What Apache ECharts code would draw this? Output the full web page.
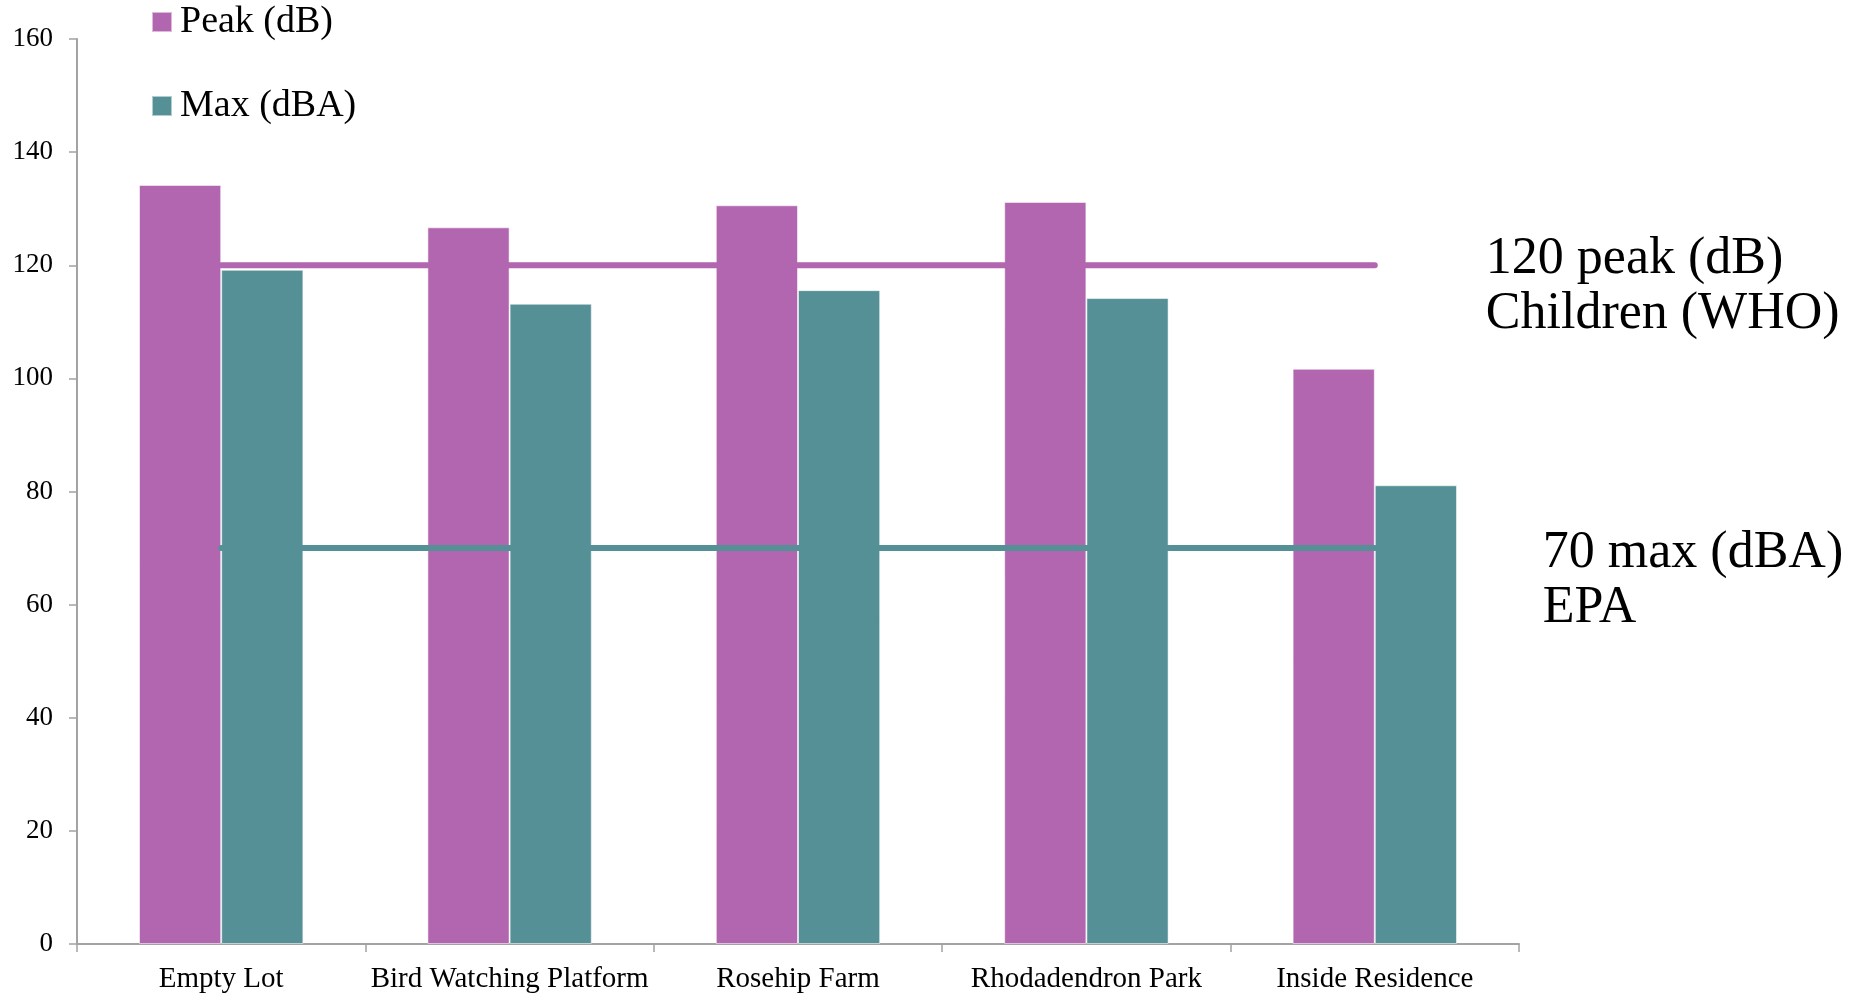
<!DOCTYPE html>
<html>
<head>
<meta charset="utf-8">
<title>Noise levels by location</title>
<script src="https://cdn.jsdelivr.net/npm/echarts@6/dist/echarts.min.js"></script>
<style>
  html, body { margin: 0; padding: 0; background: #ffffff; }
  #chart { width: 1849px; height: 995px; }
</style>
</head>
<body>
<div id="chart"></div>
<script>
// Measurement sites
const categories = ['Empty Lot', 'Bird Watching Platform', 'Rosehip Farm', 'Rhodadendron Park', 'Inside Residence'];
// Peak sound level, dB
const peakValues = [134.2, 126.7, 130.6, 131.2, 101.7];
// Maximum A-weighted level, dBA
const maxValues = [119.2, 113.2, 115.6, 114.2, 81.1];
// Guideline thresholds
const whoPeakLimit = 120;
const epaMaxLimit = 70;
const yTicks = { min: 0, max: 160, step: 20 };

const PINK = '#B166AF';
const TEAL = '#559097';
const AXIS = '#A3A3A3';
const FONT = '"Liberation Serif", "DejaVu Serif", serif';

const chart = echarts.init(document.getElementById('chart'));

chart.setOption({
  animation: false,
  backgroundColor: '#ffffff',
  textStyle: { fontFamily: FONT, color: '#000' },
  grid: { left: 77, right: 330, top: 39, bottom: 51, containLabel: false },
  legend: {
    data: ['Peak (dB)', 'Max (dBA)'],
    orient: 'vertical',
    left: 151,
    top: 2,
    padding: 0,
    itemWidth: 20,
    itemHeight: 20,
    itemGap: 44,
    icon: 'rect',
    textStyle: { fontFamily: FONT, fontSize: 38, color: '#000', lineHeight: 40, padding: [0, 0, 0, 3] }
  },
  xAxis: {
    type: 'category',
    data: categories,
    boundaryGap: true,
    axisLine: { lineStyle: { color: AXIS, width: 2 } },
    axisTick: { show: true, length: 8, alignWithLabel: false, lineStyle: { color: AXIS, width: 1.5 } },
    axisLabel: { fontFamily: FONT, fontSize: 29, color: '#000', margin: 21, interval: 0 },
    splitLine: { show: false }
  },
  yAxis: {
    type: 'value',
    min: yTicks.min,
    max: yTicks.max,
    interval: yTicks.step,
    axisLine: { show: true, lineStyle: { color: AXIS, width: 2 } },
    axisTick: { show: true, length: 8, lineStyle: { color: AXIS, width: 1.5 } },
    axisLabel: { fontFamily: FONT, fontSize: 27, color: '#000', margin: 24 },
    splitLine: { show: false }
  },
  series: [
    {
      name: 'Peak (dB)',
      type: 'bar',
      data: peakValues,
      barGap: '0%',
      barCategoryGap: '43%',
      itemStyle: { color: PINK, borderColor: 'rgba(255,255,255,0.55)', borderWidth: 1 }
    },
    {
      name: 'Max (dBA)',
      type: 'bar',
      data: maxValues,
      barGap: '0%',
      barCategoryGap: '43%',
      itemStyle: { color: TEAL, borderColor: 'rgba(255,255,255,0.55)', borderWidth: 1 }
    },
    {
      name: 'WHO limit',
      type: 'line',
      data: categories.map(() => whoPeakLimit),
      showSymbol: false,
      symbol: 'none',
      z: 5,
      lineStyle: { color: PINK, width: 6, cap: 'round' },
      endLabel: {
        show: true,
        formatter: whoPeakLimit + ' peak (dB)\nChildren (WHO)',
        fontFamily: FONT,
        fontSize: 52,
        lineHeight: 55,
        color: '#000',
        align: 'left',
        verticalAlign: 'middle',
        offset: [103, 22]
      }
    },
    {
      name: 'EPA limit',
      type: 'line',
      data: categories.map(() => epaMaxLimit),
      showSymbol: false,
      symbol: 'none',
      z: 5,
      lineStyle: { color: TEAL, width: 6, cap: 'round' },
      endLabel: {
        show: true,
        formatter: epaMaxLimit + ' max (dBA)\nEPA',
        fontFamily: FONT,
        fontSize: 52,
        lineHeight: 55,
        color: '#000',
        align: 'left',
        verticalAlign: 'middle',
        offset: [160, 33]
      }
    }
  ]
});
</script>
</body>
</html>
